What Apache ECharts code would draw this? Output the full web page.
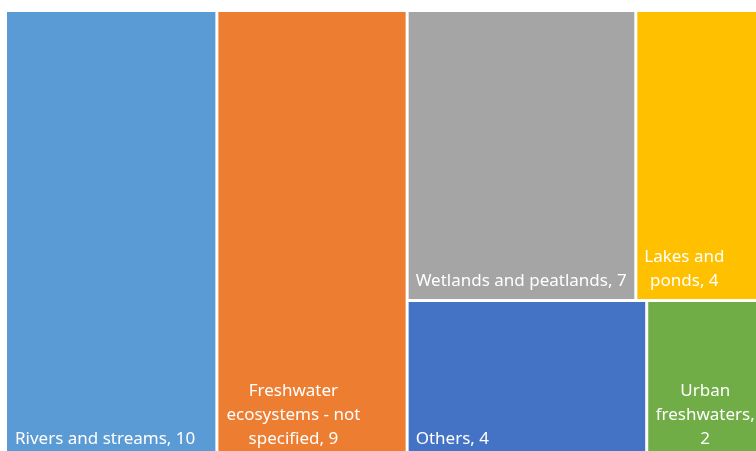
<!DOCTYPE html>
<html>
<head>
<meta charset="utf-8">
<script src="https://cdn.jsdelivr.net/npm/echarts@6/dist/echarts.min.js"></script>
<style>html,body{margin:0;padding:0;background:#fff}#c{width:756px;height:451px}</style>
</head>
<body>
<div id="c"></div>
<script>
const names = ['Rivers and streams', 'Freshwater ecosystems - not specified', 'Wetlands and peatlands', 'Lakes and ponds', 'Others', 'Urban freshwaters'];
const values = [10, 9, 7, 4, 4, 2];
const colors = ['#5B9BD5', '#ED7D31', '#A5A5A5', '#FFC000', '#4472C4', '#70AD47'];
// words per label line (as wrapped in the reference)
const lineWords = [null, [1, 3, 2], null, [2, 2], null, [1, 1, 1]];
// label anchor (px from cell's left) and alignment
const labelX = [8, 75, 7, 47, 7, 57];
const labelAlign = ['left', 'center', 'left', 'center', 'left', 'center'];

function labelText(i) {
  const txt = names[i] + ', ' + values[i];
  if (!lineWords[i]) return txt;
  const words = txt.split(' ');
  const lines = [];
  let k = 0;
  for (const n of lineWords[i]) { lines.push(words.slice(k, k + n).join(' ')); k += n; }
  return lines.join('\n');
}

function leaf(i) {
  return {
    name: names[i], value: values[i],
    itemStyle: { color: colors[i] },
    label: {
      formatter: labelText(i),
      position: [labelX[i], '100%'],
      align: labelAlign[i],
      verticalAlign: 'bottom',
      offset: [0, -6]
    }
  };
}
const groupTop = { name: '', children: [leaf(2), leaf(3)] };
const groupBottom = { name: '', children: [leaf(4), leaf(5)] };
[groupTop, groupBottom].forEach(g => g.value = g.children.reduce((s, c) => s + c.value, 0));
const groupRight = { name: '', children: [groupTop, groupBottom], value: groupTop.value + groupBottom.value };
const data = [leaf(0), leaf(1), groupRight];

const chart = echarts.init(document.getElementById('c'));
chart.setOption({
  animation: false,
  series: [{
    type: 'treemap',
    left: 7, top: 12, width: 758, height: 445,
    sort: false,
    squareRatio: 0.5,
    roam: false, nodeClick: false,
    breadcrumb: { show: false },
    itemStyle: { borderWidth: 0, gapWidth: 3, borderColor: '#fff' },
    label: { show: true, color: '#fff', fontFamily: 'Noto Sans', fontSize: 17, lineHeight: 24, overflow: 'none', padding: 0 },
    emphasis: { disabled: true },
    data: data
  }]
});
</script>
</body>
</html>
